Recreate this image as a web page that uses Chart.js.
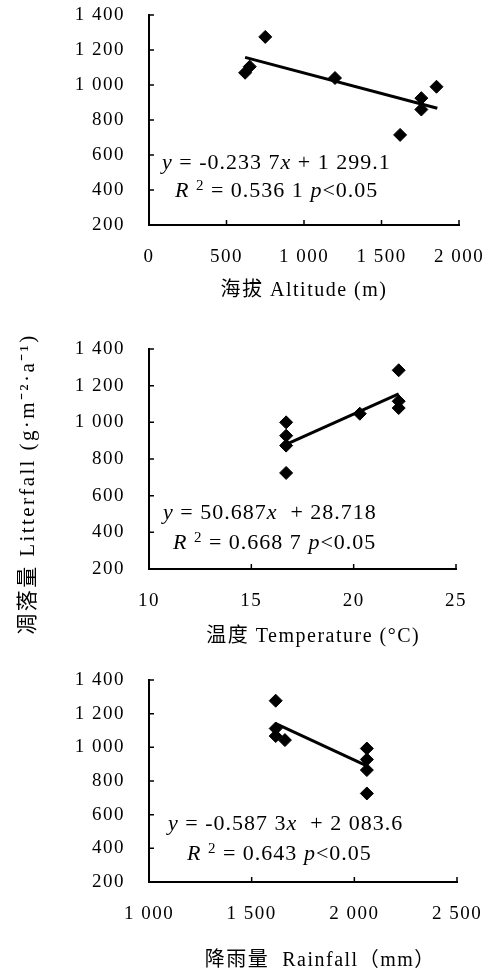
<!DOCTYPE html>
<html>
<head>
<meta charset="utf-8">
<script src="https://cdn.jsdelivr.net/npm/chart.js@4/dist/chart.umd.min.js"></script>
<style>
  body { margin: 0; background: #fff; }
  #wrap { position: relative; width: 503px; height: 974px; overflow: hidden; }
  .panel { position: absolute; left: 0; }
  .eq {
    position: absolute;
    font: 22px "Liberation Serif", "Times New Roman", serif;
    letter-spacing: 1px;
    line-height: 28px;
    white-space: pre;
    color: #000;
  }
  .eq sup { font-size: 15px; vertical-align: 7px; line-height: 0; }
  #ytitle {
    position: absolute;
    left: -133px; top: 472px; width: 320px; height: 24px;
    text-align: center;
    font: 21px "Liberation Serif", "Noto Sans CJK SC", serif;
    letter-spacing: 2.4px;
    line-height: 24px;
    transform: rotate(-90deg);
    white-space: pre;
  }
</style>
</head>
<body>
<div id="wrap">
  <canvas id="c1" class="panel" width="503" height="320" style="top:0px"></canvas>
  <canvas id="c2" class="panel" width="503" height="330" style="top:320px"></canvas>
  <canvas id="c3" class="panel" width="503" height="324" style="top:650px"></canvas>

  <div id="ytitle">凋落量 Litterfall (g·m⁻²·a⁻¹)</div>

  <div class="eq" style="left:162px;top:148px"><i>y</i> = -0.233 7<i>x</i> + 1 299.1</div>
  <div class="eq" style="left:175px;top:176px"><i>R</i> <sup>2</sup> = 0.536 1 <i>p</i>&lt;0.05</div>

  <div class="eq" style="left:163px;top:498px"><i>y</i> = 50.687<i>x</i>  + 28.718</div>
  <div class="eq" style="left:173px;top:528px"><i>R</i> <sup>2</sup> = 0.668 7 <i>p</i>&lt;0.05</div>

  <div class="eq" style="left:168px;top:809px"><i>y</i> = -0.587 3<i>x</i>  + 2 083.6</div>
  <div class="eq" style="left:187px;top:839px"><i>R</i> <sup>2</sup> = 0.643 <i>p</i>&lt;0.05</div>
</div>
<script>
// data
const altitude = [620, 650, 750, 1200, 1620, 1757, 1757, 1855];
const litterByAltitude = [1070, 1105, 1275, 1040, 715, 925, 860, 990];
const altitudeFitX = [620, 1860];
const altitudeFitY = [1158, 867];

const temperature = [16.7, 16.7, 16.7, 16.7, 20.3, 22.2, 22.2, 22.2];
const litterByTemperature = [1000, 927, 873, 724, 1047, 1284, 1115, 1078];
const temperatureFitX = [16.7, 22.2];
const temperatureFitY = [880, 1155];

const rainfall = [1617, 1617, 1617, 1662, 2061, 2061, 2061, 2061];
const litterByRainfall = [1277, 1112, 1067, 1043, 993, 928, 865, 726];
const rainfallFitX = [1615, 2061];
const rainfallFitY = [1142, 890];

const litterTicks = [200, 400, 600, 800, 1000, 1200, 1400];
const altitudeTicks = [0, 500, 1000, 1500, 2000];
const temperatureTicks = [10, 15, 20, 25];
const rainfallTicks = [1000, 1500, 2000, 2500];

const serif = '"Liberation Serif", "Times New Roman", serif';
const titleFamily = '"Liberation Serif", "Noto Sans CJK SC", serif';

// numbers with a space as thousands separator, e.g. 1 400
function fmt(v) {
  const s = String(v);
  return s.length > 3 ? s.slice(0, s.length - 3) + ' ' + s.slice(-3) : s;
}

function pairs(xs, ys) {
  return xs.map((x, i) => ({ x: x, y: ys[i] }));
}

// the scanned figure has loosely spaced type
const looseText = {
  id: 'looseText',
  beforeDraw(chart) { chart.ctx.letterSpacing = '1.5px'; }
};

// small tick marks pointing into the plot
const innerTicks = {
  id: 'innerTicks',
  afterDraw(chart) {
    const { ctx, chartArea, scales } = chart;
    ctx.save();
    ctx.strokeStyle = '#000';
    ctx.lineWidth = 1.5;
    ctx.beginPath();
    scales.x.ticks.forEach(t => {
      const px = scales.x.getPixelForValue(t.value);
      ctx.moveTo(px, chartArea.bottom);
      ctx.lineTo(px, chartArea.bottom - 5);
    });
    scales.y.ticks.forEach(t => {
      const py = scales.y.getPixelForValue(t.value);
      ctx.moveTo(chartArea.left, py);
      ctx.lineTo(chartArea.left + 5, py);
    });
    ctx.stroke();
    ctx.restore();
  }
};

function makePanel(id, p) {
  const xTicks = p.ticks;
  new Chart(document.getElementById(id), {
    type: 'scatter',
    data: {
      datasets: [
        {
          data: pairs(p.xs, p.ys),
          pointStyle: 'rectRot',
          pointRadius: 6.5,
          pointBackgroundColor: '#000',
          pointBorderColor: '#000',
          pointBorderWidth: 1,
          showLine: false
        },
        {
          data: pairs(p.fitX, p.fitY),
          showLine: true,
          borderColor: '#000',
          borderWidth: 3,
          pointRadius: 0
        }
      ]
    },
    options: {
      responsive: false,
      animation: false,
      devicePixelRatio: 1,
      layout: {
        padding: {
          top: p.plotTop - p.top,
          right: 503 - p.plotRight,
          bottom: p.top + p.height - (p.titleY + 12),
          left: 0
        }
      },
      plugins: { legend: { display: false }, tooltip: { enabled: false } },
      scales: {
        x: {
          type: 'linear',
          min: xTicks[0],
          max: xTicks[xTicks.length - 1],
          afterBuildTicks: s => { s.ticks = xTicks.map(v => ({ value: v })); },
          afterFit: s => {
            s.height = p.titleY + 12 - p.plotBottom;
            s.paddingLeft = 0;
            s.paddingRight = 0;
          },
          grid: { drawOnChartArea: false, drawTicks: false },
          border: { display: true, color: '#000', width: 2 },
          ticks: {
            color: '#000',
            padding: p.tickPad,
            maxRotation: 0,
            font: { family: serif, size: 19 },
            callback: v => fmt(v)
          },
          title: {
            display: true,
            text: p.title,
            color: '#000',
            padding: { top: 0, bottom: 0 },
            font: { family: titleFamily, size: 20, lineHeight: 1.2 }
          }
        },
        y: {
          type: 'linear',
          min: 200,
          max: 1400,
          afterBuildTicks: s => { s.ticks = litterTicks.map(v => ({ value: v })); },
          afterFit: s => {
            s.width = 149;
            s.paddingTop = 0;
            s.paddingBottom = 0;
          },
          grid: { drawOnChartArea: false, drawTicks: false },
          border: { display: true, color: '#000', width: 2 },
          ticks: {
            color: '#000',
            padding: 24,
            font: { family: serif, size: 19 },
            callback: v => fmt(v)
          }
        }
      }
    },
    plugins: [looseText, innerTicks]
  });
}

makePanel('c1', {
  xs: altitude, ys: litterByAltitude, fitX: altitudeFitX, fitY: altitudeFitY,
  ticks: altitudeTicks, title: '海拔 Altitude (m)',
  top: 0, height: 320, plotTop: 15, plotBottom: 225, plotRight: 459, titleY: 291, tickPad: 21
});

makePanel('c2', {
  xs: temperature, ys: litterByTemperature, fitX: temperatureFitX, fitY: temperatureFitY,
  ticks: temperatureTicks, title: '\u3000温度 Temperature (°C)',
  top: 320, height: 330, plotTop: 349, plotBottom: 569, plotRight: 456, titleY: 637, tickPad: 21
});

makePanel('c3', {
  xs: rainfall, ys: litterByRainfall, fitX: rainfallFitX, fitY: rainfallFitY,
  ticks: rainfallTicks, title: '\u3000  降雨量  Rainfall（mm）',
  top: 650, height: 324, plotTop: 680, plotBottom: 882, plotRight: 457, titleY: 961, tickPad: 21
});
</script>
</body>
</html>
